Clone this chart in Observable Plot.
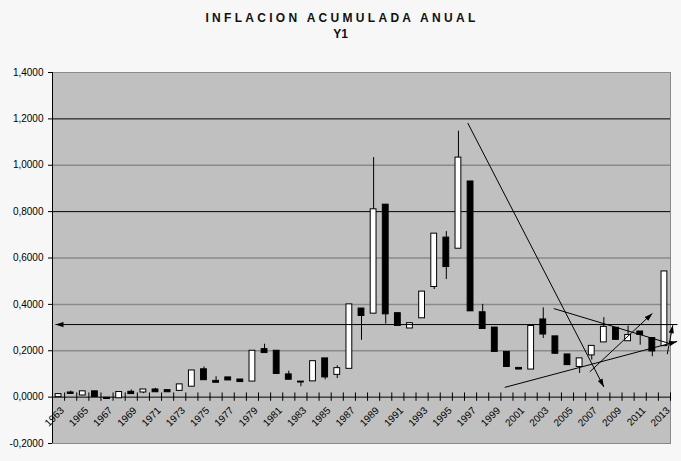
<!DOCTYPE html>
<html>
<head>
<meta charset="utf-8">
<script src="https://cdn.jsdelivr.net/npm/d3@7"></script>
<script src="https://cdn.jsdelivr.net/npm/@observablehq/plot@0.6"></script>
<style>
  html, body { margin: 0; padding: 0; background: #f7f7f7; }
  body { font-family: "Liberation Sans", Arial, sans-serif; }
  #wrap { width: 681px; height: 461px; position: relative; overflow: hidden; }
  #title { height: 48px; position: relative; }
  #t1 { position: absolute; top: 11px; left: 0; width: 681px; text-align: center;
        font-size: 12px; font-weight: bold; letter-spacing: 3.3px; word-spacing: 0px; color: #111; padding-left: 3px; box-sizing: border-box; }
  #t2 { position: absolute; top: 27px; left: 0; width: 681px; text-align: center;
        font-size: 12px; font-weight: bold; color: #111; }
  #chart svg { display: block; }
</style>
</head>
<body>
<div id="wrap">
  <div id="title">
    <div id="t1">INFLACION ACUMULADA ANUAL</div>
    <div id="t2">Y1</div>
  </div>
  <div id="chart"></div>
</div>
<script>
// ---- data ----
const years = [1963,1964,1965,1966,1967,1968,1969,1970,1971,1972,1973,1974,1975,1976,1977,1978,1979,1980,
  1981,1982,1983,1984,1985,1986,1987,1988,1989,1990,1991,1992,1993,1994,1995,1996,1997,1998,1999,2000,
  2001,2002,2003,2004,2005,2006,2007,2008,2009,2010,2011,2012,2013];
const openVals = [0.000,0.020,0.007,0.025,-0.003,-0.005,0.023,0.020,0.033,0.030,0.027,0.045,0.120,0.070,0.085,0.076,0.067,0.207,
  0.200,0.098,0.067,0.068,0.167,0.096,0.122,0.382,0.360,0.830,0.362,0.296,0.340,0.475,0.688,0.640,0.930,0.366,0.300,0.195,
  0.126,0.119,0.335,0.262,0.184,0.130,0.180,0.236,0.299,0.241,0.283,0.255,0.220];
const closeVals = [0.013,0.014,0.025,0.001,-0.008,0.022,0.013,0.033,0.021,0.021,0.055,0.115,0.073,0.062,0.072,0.065,0.200,0.190,
  0.100,0.075,0.063,0.155,0.085,0.125,0.400,0.350,0.810,0.357,0.307,0.319,0.455,0.705,0.561,1.033,0.370,0.294,0.195,0.130,
  0.119,0.307,0.270,0.187,0.138,0.167,0.221,0.303,0.247,0.268,0.268,0.197,0.542];
const highVals = [null,0.026,null,null,null,null,0.031,null,0.038,null,null,null,0.130,0.088,null,null,null,0.228,
  null,0.112,null,null,null,0.135,null,null,1.033,null,null,null,null,null,0.714,1.147,null,0.400,null,null,
  null,null,0.385,null,null,null,null,0.343,null,0.306,null,null,null];
const lowVals = [null,0.012,null,null,null,null,null,0.015,null,null,null,null,null,null,null,null,null,null,
  null,null,0.045,null,0.075,0.080,null,0.245,null,0.315,null,null,null,0.464,0.507,null,null,null,null,null,
  null,null,0.253,null,null,0.102,0.160,null,null,null,0.224,0.174,null];
const labelYears = [1963,1965,1967,1969,1971,1973,1975,1977,1979,1981,1983,1985,1987,1989,1991,1993,1995,1997,
  1999,2001,2003,2005,2007,2009,2011,2013];
const yTicks = [-0.2,0,0.2,0.4,0.6,0.8,1.0,1.2,1.4];
const gridGray = [0.2,0.4,0.6,1.0];
const gridBlack = [0.8,1.2];
// hand-drawn annotation lines (year, value)
const arrowX1 = [2014.08,1996.77,1999.82,2006.84,2013.23];
const arrowY1 = [0.313,1.182,0.042,0.109,0.185];
const arrowX2 = [1962.75,2008.0,2014.05,2012.0,2013.69];
const arrowY2 = [0.313,0.044,0.240,0.361,0.310];
const lineX1 = [2003.87];
const lineY1 = [0.382];
const lineX2 = [2013.5];
const lineY2 = [0.230];

// ---- build tables ----
const table = years.map((y, i) => {
  const o = openVals[i], c = closeVals[i];
  return {year: y, open: o, close: c,
    high: highVals[i] ?? Math.max(o, c), low: lowVals[i] ?? Math.min(o, c)};
});
const boundaries = [years[0] - 0.5, ...years.map(y => y + 0.5)];
const arrows = arrowX1.map((x, i) => ({x1: x, y1: arrowY1[i], x2: arrowX2[i], y2: arrowY2[i]}));
const lines = lineX1.map((x, i) => ({x1: x, y1: lineY1[i], x2: lineX2[i], y2: lineY2[i]}));
const fmt = d => d.toFixed(4).replace(".", ",");

const plot = Plot.plot({
  width: 681,
  height: 413,
  marginLeft: 52,
  marginRight: 11,
  marginTop: 24,
  marginBottom: 18,
  style: {background: "transparent", fontFamily: "'Liberation Sans', Arial, sans-serif", fontSize: "10px", color: "#000", overflow: "visible"},
  x: {domain: [years[0] - 0.5, years[years.length - 1] + 0.5], axis: null},
  y: {domain: [-0.2, 1.4], axis: null},
  marks: [
    Plot.frame({fill: "#c0c0c0", stroke: "#8a8a8a"}),
    Plot.ruleY(gridGray, {stroke: "#8a8a8a", strokeWidth: 1.5}),
    Plot.ruleY(gridBlack, {stroke: "#000", strokeWidth: 1}),
    Plot.ruleY([0], {stroke: "#000"}),
    Plot.ruleX(boundaries, {y1: -0.018, y2: 0.018, stroke: "#000"}),
    Plot.ruleX([years[0] - 0.5], {stroke: "#000"}),
    Plot.axisY({ticks: yTicks, tickFormat: fmt, tickSize: 4, tickPadding: 5, anchor: "left", fontSize: 10, label: null}),
    Plot.ruleX(table, {x: "year", y1: "low", y2: "high", stroke: "#000", strokeWidth: 1}),
    Plot.rect(table, {x1: d => d.year - 0.24, x2: d => d.year + 0.24, y1: "open", y2: "close",
      fill: d => d.close >= d.open ? "#fff" : "#000", stroke: "#000", strokeWidth: 1}),
    Plot.text(labelYears, {x: d => d, y: 0, text: d => String(d), rotate: -45, textAnchor: "end",
      lineAnchor: "top", dy: 9, dx: 1, fontSize: 10, fill: "#000"}),
    Plot.link(arrows, {x1: "x1", y1: "y1", x2: "x2", y2: "y2", stroke: "#000", strokeWidth: 1, markerEnd: "arrow"}),
    Plot.link(lines, {x1: "x1", y1: "y1", x2: "x2", y2: "y2", stroke: "#000", strokeWidth: 1})
  ]
});

// filled arrowheads
d3.select(plot).selectAll("marker")
  .attr("viewBox", "-9 -5 10 10")
  .attr("markerWidth", 10)
  .attr("markerHeight", 10)
  .attr("fill", "#000")
  .attr("stroke", "none")
  .selectAll("path").attr("d", "M-8,-2.6L0,0L-8,2.6Z");

document.getElementById("chart").appendChild(plot);
</script>
</body>
</html>
